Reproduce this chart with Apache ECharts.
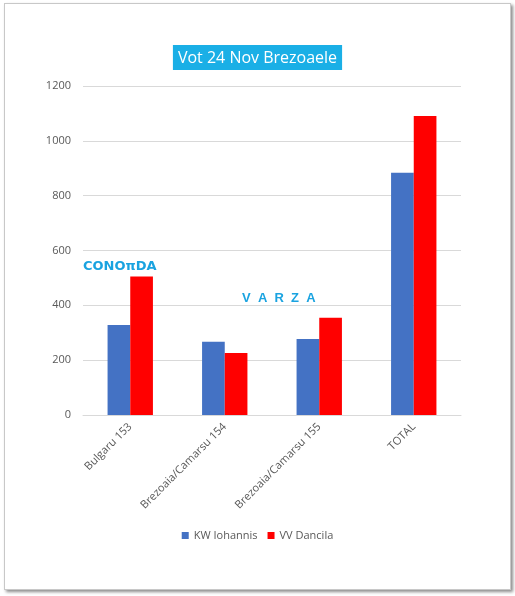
<!DOCTYPE html>
<html lang="ro">

<head>
    <meta charset="UTF-8">
    <title>Vot 24 Nov Brezoaele</title>
    <script src="https://cdn.jsdelivr.net/npm/echarts@6.0.0/dist/echarts.min.js"></script>
    <style>
        body {
            margin: 0;
            padding: 0;
            background: #ffffff;
        }

        #frame {
            position: absolute;
            left: 4px;
            top: 3px;
            width: 505px;
            height: 585px;
            border: 1px solid #c8c8c8;
            box-shadow: 2px 2px 3px #8c8c8c;
            background: #ffffff;
        }

        #chart {
            position: absolute;
            left: 0;
            top: 0;
            width: 515px;
            height: 596px;
        }
    </style>
</head>

<body>
    <div id="frame"></div>
    <div id="chart"></div>

    <script>
        // date
        var categories = ['Bulgaru 153', 'Brezoaia/Camarsu 154', 'Brezoaia/Camarsu 155', 'TOTAL'];
        var iohannis = [328, 267, 277, 884];
        var dancila = [505, 226, 355, 1091];
        var seriesNames = ['KW Iohannis', 'VV Dancila'];

        var myChart = echarts.init(document.getElementById('chart'));

        var font = '"Open Sans", "Noto Sans", sans-serif';

        myChart.setOption({
            animation: false,
            title: {
                text: 'Vot 24 Nov Brezoaele',
                left: 'center',
                top: 45,
                backgroundColor: '#1aafe6',
                padding: [5, 5, 4, 5],
                textStyle: {
                    color: '#ffffff',
                    fontSize: 16,
                    fontWeight: 'normal',
                    fontFamily: font
                }
            },
            legend: {
                data: seriesNames,
                bottom: 50,
                left: 'center',
                itemWidth: 7,
                itemHeight: 7,
                itemGap: 10,
                icon: 'rect',
                textStyle: {
                    color: '#595959',
                    fontSize: 11,
                    fontFamily: font
                }
            },
            grid: {
                left: 83,
                right: 54,
                top: 86,
                bottom: 181,
                containLabel: false
            },
            xAxis: {
                type: 'category',
                data: categories,
                axisTick: { show: false },
                axisLine: { lineStyle: { color: '#d9d9d9' } },
                axisLabel: {
                    rotate: 45,
                    margin: 10,
                    interval: 0,
                    color: '#595959',
                    fontSize: 11,
                    fontFamily: font
                }
            },
            yAxis: {
                type: 'value',
                min: 0,
                max: 1200,
                interval: 200,
                axisLine: { show: false },
                axisTick: { show: false },
                splitLine: { lineStyle: { color: '#d9d9d9' } },
                axisLabel: {
                    margin: 12,
                    color: '#595959',
                    fontSize: 11,
                    fontFamily: font,
                    formatter: function (v) { return String(v); }
                }
            },
            series: [
                {
                    name: seriesNames[0],
                    type: 'bar',
                    data: iohannis,
                    barWidth: '24%',
                    barGap: '0%',
                    itemStyle: { color: '#4472c4' }
                },
                {
                    name: seriesNames[1],
                    type: 'bar',
                    data: dancila,
                    barWidth: '24%',
                    barGap: '0%',
                    itemStyle: { color: '#ff0000' }
                }
            ],
            graphic: [
                {
                    type: 'text',
                    left: 83,
                    top: 260,
                    style: {
                        text: 'CONOπDA',
                        fill: '#1aa3e0',
                        font: 'bold 13px "DejaVu Sans", Verdana, sans-serif'
                    }
                },
                {
                    type: 'text',
                    left: 242,
                    top: 292,
                    style: {
                        text: 'V  A  R  Z  A',
                        fill: '#1aa3e0',
                        font: 'bold 13px "Liberation Sans", Arial, sans-serif'
                    }
                }
            ]
        });
    </script>
</body>

</html>
